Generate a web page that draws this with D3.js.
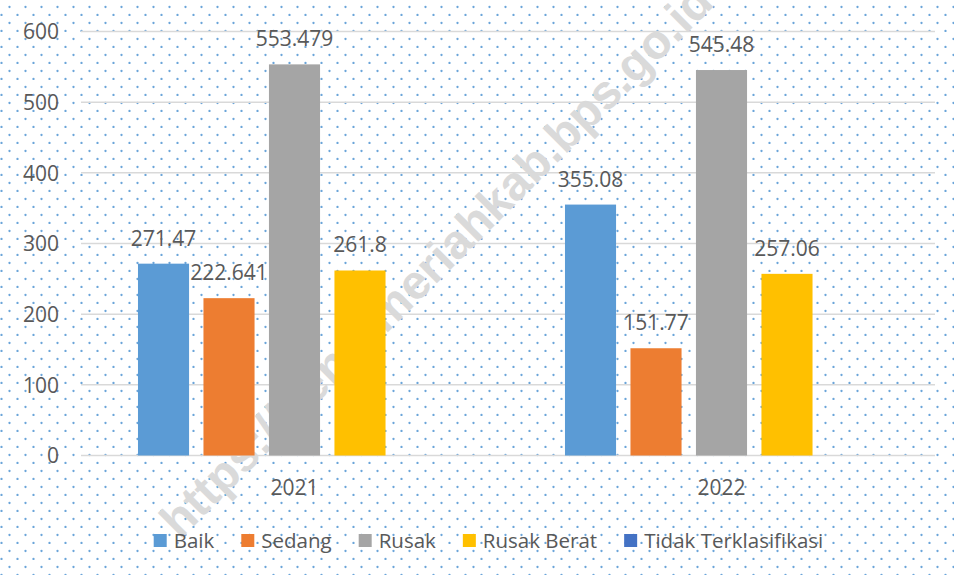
<!DOCTYPE html>
<html>
<head>
<meta charset="utf-8">
<script src="https://cdn.jsdelivr.net/npm/d3@7"></script>
<style>
  html, body { margin: 0; padding: 0; background: #fff; }
  svg { display: block; }
  text { font-family: "Open Sans", "Noto Sans", sans-serif; fill: #595959; }
</style>
</head>
<body>
<svg id="chart" width="954" height="575"></svg>
<script>
const categories = ["2021", "2022"];
const seriesNames = ["Baik", "Sedang", "Rusak", "Rusak Berat", "Tidak Terklasifikasi"];
const baik = [271.47, 355.08];
const sedang = [222.641, 151.77];
const rusak = [553.479, 545.48];
const rusakBerat = [261.8, 257.06];
const tidakTerklasifikasi = [null, null];
const seriesColors = ["#5B9BD5", "#ED7D31", "#A5A5A5", "#FFC000", "#4472C4"];
const yTicks = [0, 100, 200, 300, 400, 500, 600];
const watermark = "https://benermeriahkab.bps.go.id";

const seriesValues = [baik, sedang, rusak, rusakBerat, tidakTerklasifikasi];
const W = 954, H = 575;
const svg = d3.select("#chart");

// dotted background pattern
const defs = svg.append("defs");
const pat = defs.append("pattern").attr("id", "dots")
  .attr("patternUnits", "userSpaceOnUse")
  .attr("x", 0).attr("y", 0).attr("width", 16).attr("height", 16);
pat.append("circle").attr("cx", 9.5).attr("cy", 7).attr("r", 1.15).attr("fill", "#5b9bd5");
pat.append("circle").attr("cx", 1.5).attr("cy", 15).attr("r", 1.15).attr("fill", "#5b9bd5");
svg.append("rect").attr("width", W).attr("height", H).attr("fill", "#fff");
svg.append("rect").attr("width", W).attr("height", H).attr("fill", "url(#dots)").attr("opacity", 0.9);

// watermark
svg.append("text")
  .attr("transform", "translate(180,540) rotate(-45)")
  .style("font-family", "'Liberation Sans', Arial, sans-serif")
  .style("font-weight", "bold")
  .style("font-size", "48px")
  .style("fill", "#dadada")
  .text(watermark);

const x0 = d3.scaleBand().domain(categories).range([81, 935]).padding(0);
const x1 = d3.scaleBand().domain(seriesNames).range([0, x0.bandwidth()])
  .paddingInner(0.22).paddingOuter(0.87);
const y = d3.scaleLinear().domain([0, 600]).range([455.5, 31.5]);

// gridlines
svg.append("g").selectAll("line").data(yTicks).join("line")
  .attr("x1", 81).attr("x2", 935)
  .attr("y1", d => y(d)).attr("y2", d => y(d))
  .attr("stroke", "#d9d9d9").attr("stroke-width", 1.5);

// y axis labels
const yAxis = d3.axisLeft(y).tickValues(yTicks).tickSize(0).tickPadding(0);
const gy = svg.append("g").attr("transform", "translate(59,0)").call(yAxis);
gy.select(".domain").remove();
gy.selectAll("text").style("font-size", "21px").style("fill", "#595959")
  .style("font-family", "'Open Sans', sans-serif").attr("dy", "0.35em");

// x axis labels
const xAxis = d3.axisBottom(x0).tickSize(0).tickPadding(0);
const gx = svg.append("g").attr("transform", "translate(0,495)").call(xAxis);
gx.select(".domain").remove();
gx.selectAll("text").style("font-size", "21px").style("fill", "#595959")
  .style("font-family", "'Open Sans', sans-serif").attr("dy", "0");

// bars
const flat = [];
categories.forEach((c, ci) => {
  seriesNames.forEach((s, si) => {
    flat.push({ cat: c, series: s, value: seriesValues[si][ci], color: seriesColors[si] });
  });
});
const valid = flat.filter(d => d.value != null);
svg.append("g").selectAll("rect").data(valid).join("rect")
  .attr("x", d => x0(d.cat) + x1(d.series))
  .attr("width", x1.bandwidth())
  .attr("y", d => y(d.value))
  .attr("height", d => y(0) - y(d.value))
  .attr("fill", d => d.color);

// value labels
svg.append("g").selectAll("text").data(valid).join("text")
  .attr("x", d => x0(d.cat) + x1(d.series) + x1.bandwidth() / 2)
  .attr("y", d => y(d.value) - 18)
  .attr("text-anchor", "middle")
  .style("font-size", "21px")
  .text(d => String(d.value));

// legend
const lg = svg.append("g");
const items = lg.selectAll("g").data(seriesNames).join("g");
items.append("rect").attr("width", 13).attr("height", 13).attr("y", 534)
  .attr("fill", (d, i) => seriesColors[i]);
items.append("text").attr("x", 20).attr("y", 548).style("font-size", "20.5px").text(d => d);
let widths = [];
items.each(function() { widths.push(d3.select(this).select("text").node().getComputedTextLength()); });
const gap = 27;
const total = d3.sum(widths, w => 20 + w) + gap * (widths.length - 1);
let cx = 488.5 - total / 2;
items.attr("transform", (d, i) => {
  const t = `translate(${cx},0)`;
  cx += 20 + widths[i] + gap;
  return t;
});
</script>
</body>
</html>
